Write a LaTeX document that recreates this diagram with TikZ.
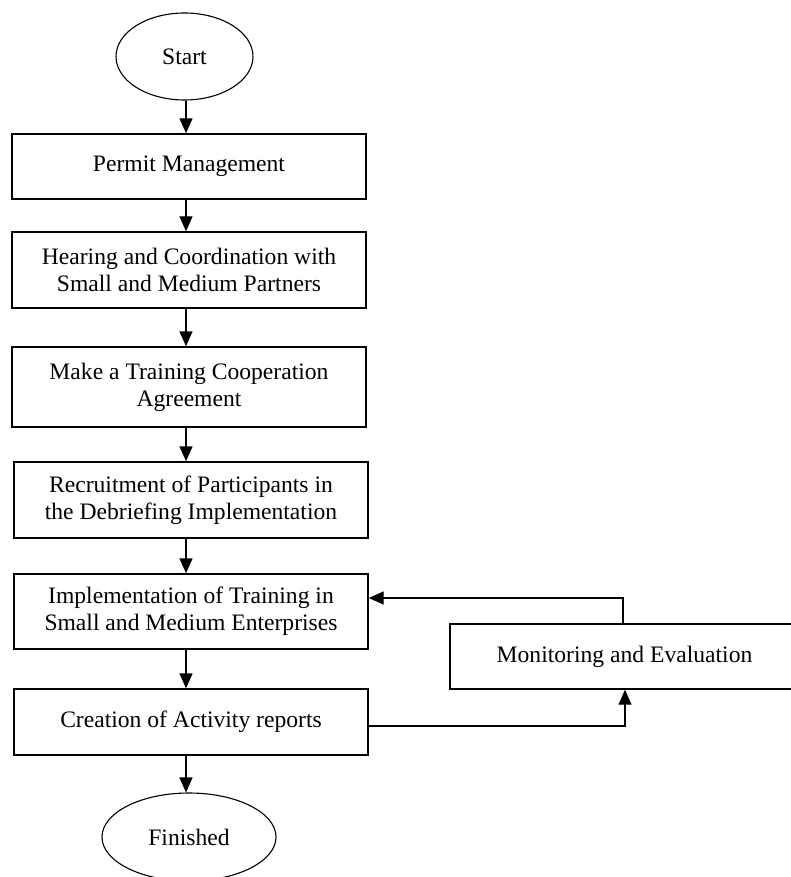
\documentclass[tikz,border=0pt]{standalone}
\usepackage{fontspec}
\setmainfont{Liberation Serif}
\usetikzlibrary{shapes.geometric,arrows.meta}
\begin{document}
\begin{tikzpicture}[x=1pt,y=-1pt,
  every node/.style={font=\fontsize{23.6}{27}\selectfont, align=center},
  procbox/.style={draw, line width=1.4pt, rectangle, minimum width=354pt, inner sep=0pt},
  term/.style={draw, line width=1.1pt, ellipse, inner sep=0pt},
  arr/.style={line width=1.4pt, -{Triangle[width=13pt,length=15pt]}}]
\useasboundingbox (0,0) rectangle (790,877);
\node[term, minimum width=137pt, minimum height=87pt] (start) at (184.5,56.5) {Start};
\node[procbox, minimum height=65pt] (b1) at (189,166.5) {Permit Management};
\node[procbox, minimum height=76pt] (b2) at (189,270) {Hearing and Coordination with\\Small and Medium Partners};
\node[procbox, minimum height=80pt] (b3) at (189,387) {Make a Training Cooperation\\Agreement};
\node[procbox, minimum height=76pt] (b4) at (191,500) {Recruitment of Participants in\\the Debriefing Implementation};
\node[procbox, minimum height=75pt] (b5) at (191,611.5) {Implementation of Training in\\Small and Medium Enterprises};
\node[procbox, minimum height=66pt] (b6) at (191,722) {Creation of Activity reports};
\node[procbox, minimum width=349pt, minimum height=65pt] (mon) at (624.5,656.5) {Monitoring and Evaluation};
\node[term, minimum width=174pt, minimum height=88pt] (fin) at (189,837) {Finished};
\coordinate (ax) at (186,0);
\draw[arr] (start.south -| ax) -- (b1.north -| ax);
\draw[arr] (b1.south -| ax) -- (b2.north -| ax);
\draw[arr] (b2.south -| ax) -- (b3.north -| ax);
\draw[arr] (b3.south -| ax) -- (b4.north -| ax);
\draw[arr] (b4.south -| ax) -- (b5.north -| ax);
\draw[arr] (b5.south -| ax) -- (b6.north -| ax);
\draw[arr] (b6.south -| ax) -- (fin.north -| ax);
\draw[arr] ([xshift=-1.5pt]mon.north) |- ([yshift=13.5pt]b5.east);
\draw[arr] ([yshift=-4pt]b6.east) -| ([xshift=0.5pt]mon.south);
\end{tikzpicture}
\end{document}
